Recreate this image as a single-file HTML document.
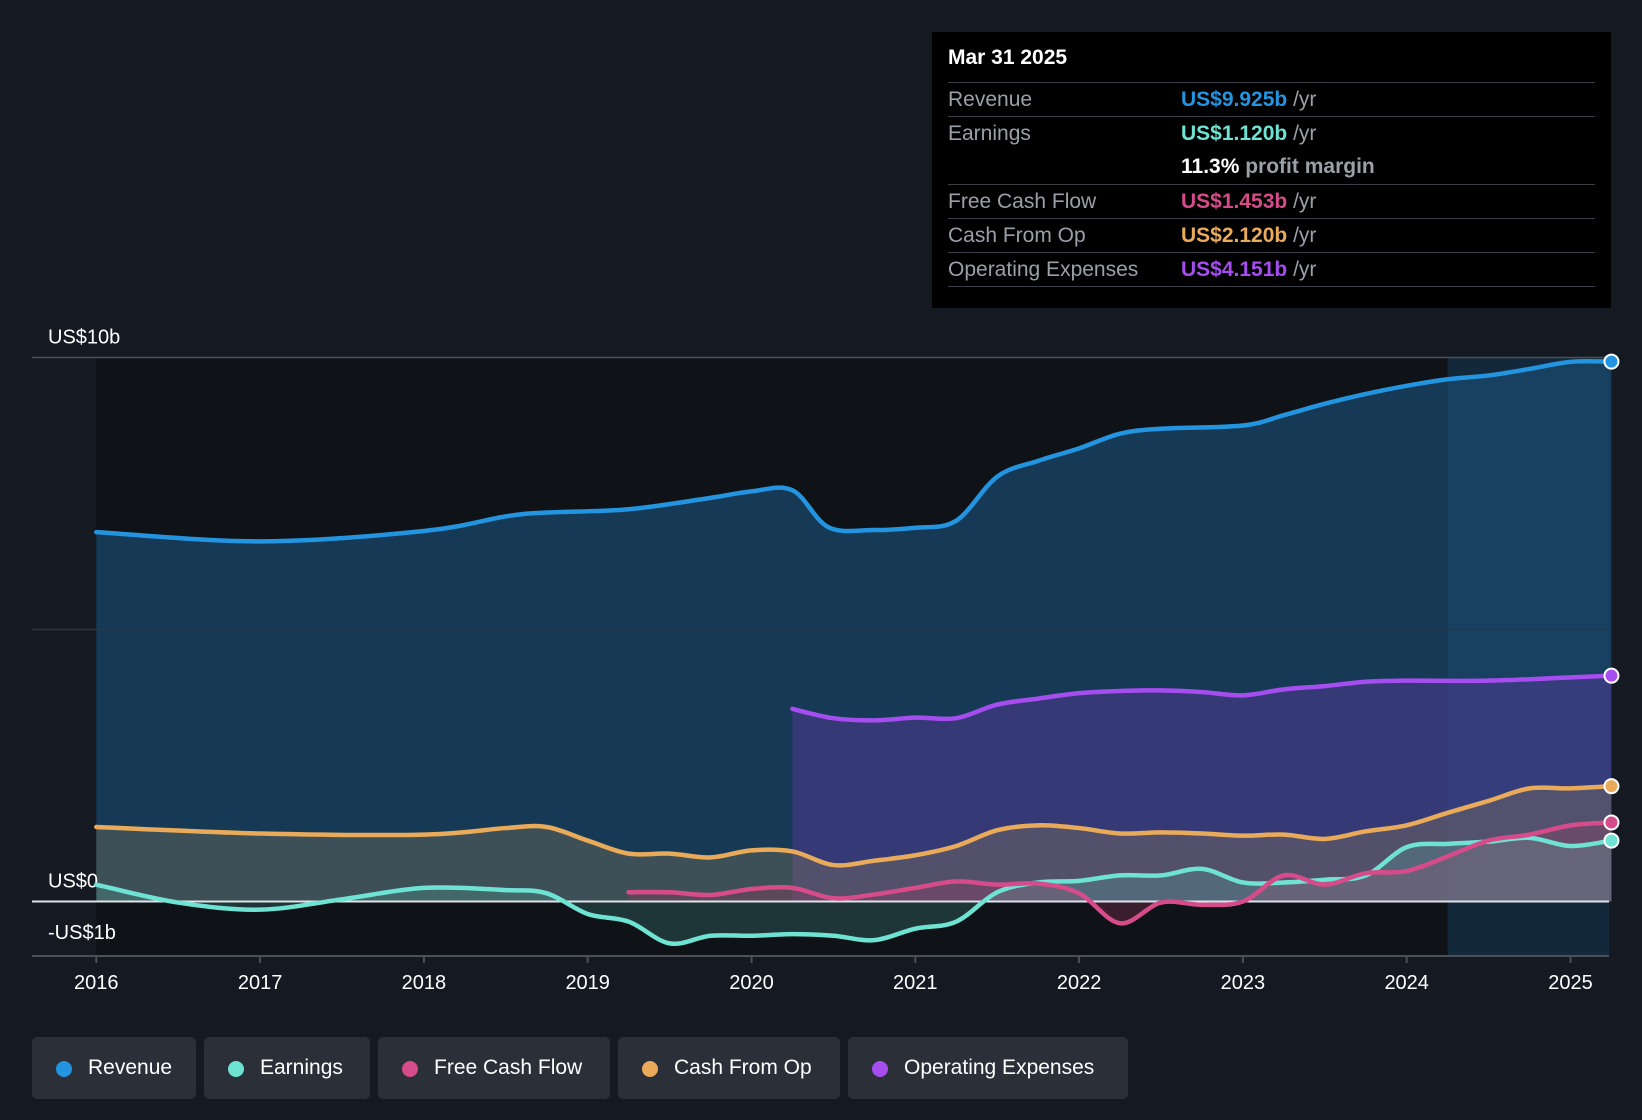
<!DOCTYPE html>
<html><head><meta charset="utf-8"><style>
body{margin:0;background:#151a22;font-family:"Liberation Sans",sans-serif;}
#wrap{position:relative;width:1642px;height:1120px;overflow:hidden;background:#151a22}
.tip{position:absolute;left:932px;top:32px;width:679px;height:276px;background:#000;color:#fff}
.row{position:absolute;left:16px;right:16px;height:34px;border-top:1px solid #3a3f47;font-size:21px;line-height:34px}
.row .l{position:absolute;left:0;color:#9aa0a8}.row .v{position:absolute;left:233px;font-weight:bold}
.row .v span{color:#9aa0a8;font-weight:normal}
.leg{position:absolute;top:1037px;height:62px;background:#2a2f38;border-radius:5px;color:#fff;font-size:21px;line-height:62px;box-sizing:border-box;padding-left:56px}
.leg i{position:absolute;left:24px;top:24px;width:16px;height:16px;border-radius:50%}
</style></head><body><div id="wrap">
<svg id="svg" width="1642" height="1120" style="position:absolute;left:0;top:0"></svg>
<div class="tip">
<div style="position:absolute;left:16px;top:14px;font-size:21px;font-weight:bold">Mar 31 2025</div>
<div class="row" style="top:50px"><span class="l">Revenue</span><span class="v" style="color:#2394e0">US$9.925b <span>/yr</span></span></div>
<div class="row" style="top:84px"><span class="l">Earnings</span><span class="v" style="color:#6ee3d3">US$1.120b <span>/yr</span></span></div>
<div class="row" style="top:118px;border-top:none"><span class="v" style="color:#fff">11.3% <span style="font-weight:bold">profit margin</span></span></div>
<div class="row" style="top:152px"><span class="l">Free Cash Flow</span><span class="v" style="color:#d64b89">US$1.453b <span>/yr</span></span></div>
<div class="row" style="top:186px"><span class="l">Cash From Op</span><span class="v" style="color:#e9aa5a">US$2.120b <span>/yr</span></span></div>
<div class="row" style="top:220px"><span class="l">Operating Expenses</span><span class="v" style="color:#a64df0">US$4.151b <span>/yr</span></span></div>
<div class="row" style="top:254px;height:0"></div>
</div>
<div class="leg" style="left:32px;width:164px"><i style="background:#2394e0"></i>Revenue</div>
<div class="leg" style="left:204px;width:166px"><i style="background:#6ee3d3"></i>Earnings</div>
<div class="leg" style="left:378px;width:232px"><i style="background:#d64b89"></i>Free Cash Flow</div>
<div class="leg" style="left:618px;width:222px"><i style="background:#e9aa5a"></i>Cash From Op</div>
<div class="leg" style="left:848px;width:280px"><i style="background:#a64df0"></i>Operating Expenses</div>
</div>
<script>
const years=[2016,2017,2018,2019,2020,2021,2022,2023,2024,2025];
const yTicks=[{v:10,t:"US$10b"},{v:0,t:"US$0"},{v:-1,t:"-US$1b"}];
const revT=[2016,2017,2018,2018.5,2018.75,2019.25,2019.75,2020,2020.25,2020.47,2020.75,2021,2021.25,2021.5,2021.75,2022,2022.25,2022.5,2023,2023.25,2023.5,2023.75,2024,2024.25,2024.5,2024.75,2025,2025.25];
const revV=[6.79,6.62,6.81,7.08,7.15,7.21,7.42,7.54,7.56,6.88,6.83,6.87,7.0,7.81,8.1,8.33,8.6,8.69,8.75,8.94,9.15,9.33,9.48,9.6,9.67,9.79,9.92,9.925];
const opxT=[2020.25,2020.5,2020.75,2021,2021.25,2021.5,2021.75,2022,2022.25,2022.5,2022.75,2023,2023.25,2023.5,2023.75,2024,2024.5,2025,2025.25];
const opxV=[3.54,3.37,3.33,3.38,3.37,3.62,3.73,3.83,3.87,3.88,3.85,3.79,3.9,3.96,4.04,4.06,4.06,4.12,4.151];
const cfoT=[2016,2017,2018,2018.5,2018.75,2019,2019.25,2019.5,2019.75,2020,2020.25,2020.5,2020.75,2021,2021.25,2021.5,2021.75,2022,2022.25,2022.5,2022.75,2023,2023.25,2023.5,2023.75,2024,2024.25,2024.5,2024.75,2025,2025.25];
const cfoV=[1.37,1.25,1.23,1.35,1.37,1.12,0.88,0.88,0.81,0.94,0.92,0.67,0.75,0.85,1.02,1.31,1.40,1.35,1.25,1.27,1.25,1.21,1.23,1.15,1.29,1.40,1.63,1.85,2.08,2.08,2.12];
const fcfT=[2019.25,2019.5,2019.75,2020,2020.25,2020.5,2020.75,2021,2021.25,2021.5,2021.75,2022,2022.25,2022.5,2022.75,2023,2023.25,2023.5,2023.75,2024,2024.25,2024.5,2024.75,2025,2025.25];
const fcfV=[0.17,0.17,0.12,0.23,0.25,0.06,0.13,0.25,0.37,0.31,0.33,0.15,-0.40,-0.02,-0.06,0,0.48,0.31,0.52,0.56,0.83,1.12,1.23,1.40,1.453];
const earT=[2016,2016.5,2017,2017.5,2018,2018.5,2018.75,2019,2019.25,2019.5,2019.75,2020,2020.25,2020.5,2020.75,2021,2021.25,2021.5,2021.75,2022,2022.25,2022.5,2022.75,2023,2023.25,2023.5,2023.75,2024,2024.25,2024.5,2024.75,2025,2025.25];
const earV=[0.31,-0.02,-0.15,0.04,0.25,0.21,0.15,-0.23,-0.37,-0.77,-0.63,-0.63,-0.6,-0.63,-0.71,-0.5,-0.37,0.17,0.35,0.38,0.48,0.48,0.6,0.35,0.35,0.4,0.48,1.0,1.06,1.10,1.17,1.02,1.12];

const svg=document.getElementById('svg');const NS='http://www.w3.org/2000/svg';
const X=t=>96.3+(t-2016)*163.8, Y=v=>901.5-v*54.4;
const L=32,R=1609,BOT=956;
function mk(tag,a,name){const e=document.createElementNS(NS,tag);for(const k in a)e.setAttribute(k,a[k]);


svg.appendChild(e);return e;}
function path(T,V){const p=T.map((t,i)=>[X(t),Y(V[i])]);let d='M'+p[0][0]+','+p[0][1];
for(let i=0;i<p.length-1;i++){const p0=p[Math.max(i-1,0)],p1=p[i],p2=p[i+1],p3=p[Math.min(i+2,p.length-1)];
d+=` C${p1[0]+(p2[0]-p0[0])/6},${p1[1]+(p2[1]-p0[1])/6} ${p2[0]-(p3[0]-p1[0])/6},${p2[1]-(p3[1]-p1[1])/6} ${p2[0]},${p2[1]}`;}return d;}
mk('rect',{x:X(2016),y:Y(10),width:R-X(2016),height:BOT-Y(10),fill:'#0f1217'},'plot-bg');
const hx=X(2024.25);mk('rect',{x:hx,y:Y(10),width:R-hx,height:BOT-Y(10),fill:'#13283a'},'forecast-highlight');
const area=(T,V,fill,op,name)=>{const d=path(T,V)+` L${X(T[T.length-1])},${Y(0)} L${X(T[0])},${Y(0)} Z`;mk('path',{d,fill,'fill-opacity':op},name);};
area(revT,revV,'#1a4a72',0.7,'revenue-area');
area(opxT,opxV,'#5b3a9e',0.45,'opex-area');
area(cfoT,cfoV,'#8a7a5a',0.35,'cfo-area');
area(fcfT,fcfV,'#a03a60',0.3,'fcf-area');
area(earT,earV,'#5cc8b8',0.2,'earnings-area');
mk('line',{x1:L,x2:R,y1:Y(10),y2:Y(10),stroke:'#4a4f58','stroke-width':1.5},'gridline-10b');
mk('line',{x1:L,x2:R,y1:Y(5),y2:Y(5),stroke:'#2e3540','stroke-width':1.5},'gridline-5b');
mk('line',{x1:L,x2:R,y1:Y(0),y2:Y(0),stroke:'#dfe3e8','stroke-width':2},'zero-line');
mk('line',{x1:L,x2:R,y1:BOT,y2:BOT,stroke:'#4a4f58','stroke-width':2},'x-axis');
yTicks.forEach(t=>{const e=mk('text',{x:48,y:Y(t.v)+(t.v==-1?-17:-14),fill:'#fff','font-size':20,'font-family':'Liberation Sans'},'y-tick-label');e.textContent=t.t;});
years.forEach(y=>{mk('line',{x1:X(y),x2:X(y),y1:BOT,y2:BOT+7,stroke:'#4a4f58','stroke-width':2},'x-tick');
const e=mk('text',{x:X(y),y:BOT+33,fill:'#fff','font-size':20,'text-anchor':'middle','font-family':'Liberation Sans'},'x-tick-label');e.textContent=y;});
const line=(T,V,c,name)=>{mk('path',{d:path(T,V),fill:'none',stroke:c,'stroke-width':4.5,'stroke-linecap':'round'},name);
mk('circle',{cx:X(T[T.length-1]),cy:Y(V[V.length-1]),r:7,fill:c,stroke:'#fff','stroke-width':2},name+'-end-dot');};
line(earT,earV,'#6ee3d3','earnings-line');
line(fcfT,fcfV,'#d64b89','fcf-line');
line(cfoT,cfoV,'#e9aa5a','cfo-line');
line(opxT,opxV,'#a64df0','opex-line');
line(revT,revV,'#2394e0','revenue-line');
</script></body></html>
